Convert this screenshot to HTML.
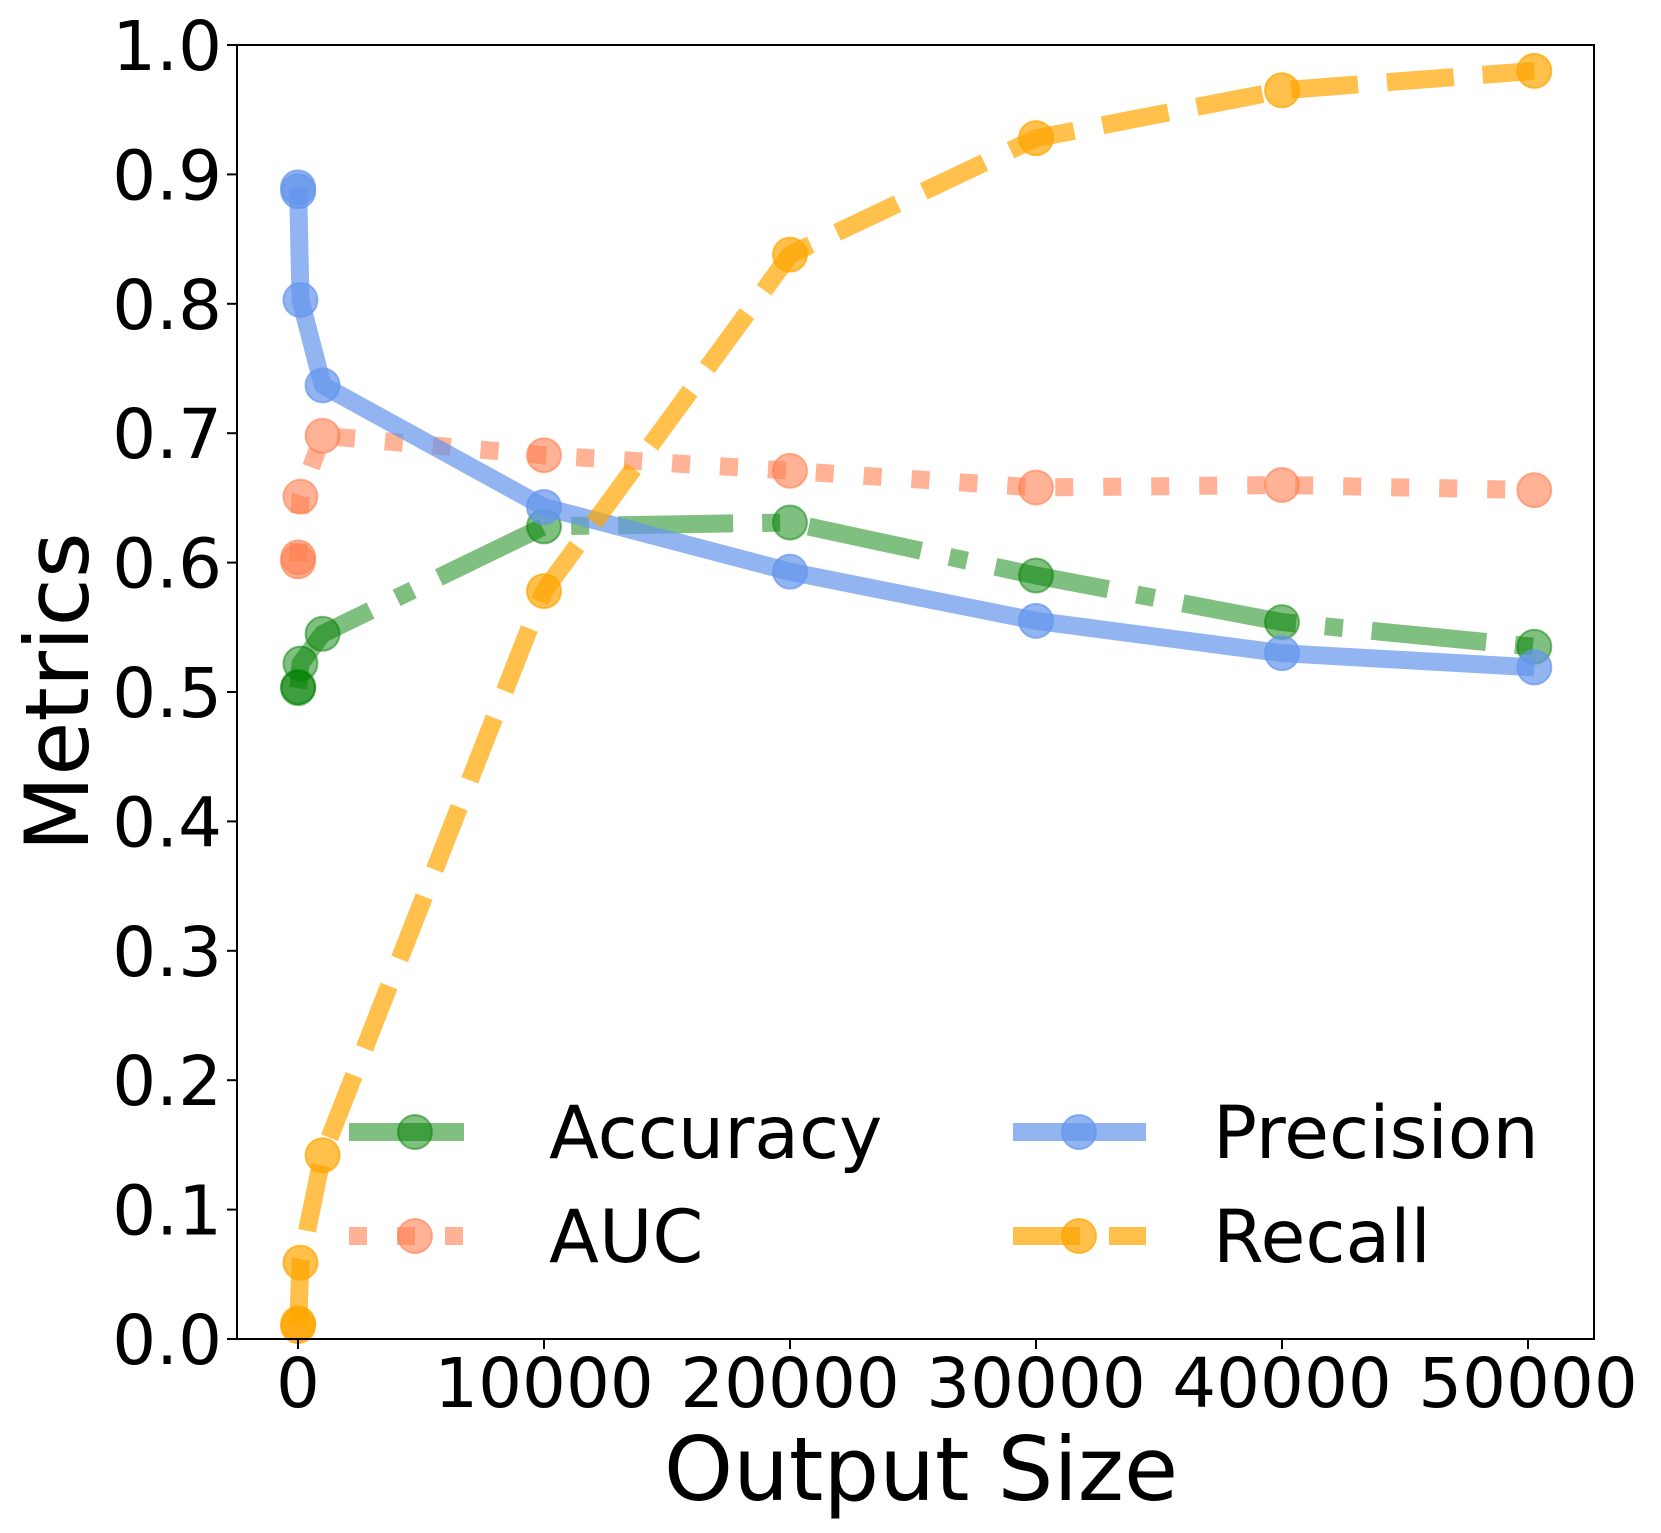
<!DOCTYPE html>
<html><head><meta charset="utf-8"><style>
html,body{margin:0;padding:0;background:#fff;}
svg{display:block;font-family:"DejaVu Sans","Liberation Sans",sans-serif;}
</style></head><body>
<svg id="chart" width="1661" height="1533" viewBox="0 0 1661 1533" xmlns="http://www.w3.org/2000/svg">
<g id="plot"></g>
<g id="axes"></g>
<g id="legend"></g>
</svg>
<script>
const xValues = [1, 10, 100, 1000, 10000, 20000, 30000, 40000, 50257];
const accuracy = [0.503, 0.504, 0.522, 0.545, 0.628, 0.631, 0.590, 0.554, 0.535];
const auc = [0.601, 0.604, 0.651, 0.698, 0.683, 0.671, 0.658, 0.660, 0.656];
const precision = [0.890, 0.887, 0.803, 0.737, 0.643, 0.593, 0.555, 0.530, 0.519];
const recall = [0.010, 0.012, 0.059, 0.142, 0.578, 0.838, 0.928, 0.965, 0.980];
const xTicks = [0, 10000, 20000, 30000, 40000, 50000];
const yTicks = [0.0, 0.1, 0.2, 0.3, 0.4, 0.5, 0.6, 0.7, 0.8, 0.9, 1.0];

const NS = "http://www.w3.org/2000/svg";
const L = 237, R = 1594, T = 45, B = 1339;
const X0 = 298, XPER = 246 / 10000;
function sx(v) { return X0 + v * XPER; }
function sy(v) { return B - v * (B - T); }
function mk(tag, attrs, parent) {
  const e = document.createElementNS(NS, tag);
  for (const k in attrs) e.setAttribute(k, attrs[k]);
  parent.appendChild(e);
  return e;
}
const plot = document.getElementById('plot');
const axes = document.getElementById('axes');
const legend = document.getElementById('legend');
const LW = 18;
const series = [
  { name: 'accuracy', label: 'Accuracy', data: accuracy, color: '#008000', alpha: 0.5, dash: [115, 29, 18, 29] },
  { name: 'auc', label: 'AUC', data: auc, color: '#FF7F50', alpha: 0.6, dash: [18, 30] },
  { name: 'precision', label: 'Precision', data: precision, color: '#6495ED', alpha: 0.7, dash: null },
  { name: 'recall', label: 'Recall', data: recall, color: '#FFA500', alpha: 0.7, dash: [67, 29] }
];
series.forEach(s => {
  const g = mk('g', {}, plot);
  
  
  const pts = s.data.map((v, i) => sx(xValues[i]).toFixed(1) + ',' + sy(v).toFixed(1)).join(' ');
  const line = mk('polyline', { points: pts, fill: 'none', stroke: s.color, 'stroke-opacity': s.alpha, 'stroke-width': LW, 'stroke-linejoin': 'round', 'stroke-linecap': 'butt' }, g);
  if (s.dash) line.setAttribute('stroke-dasharray', s.dash.join(' '));
  
  
  s.data.forEach((v, i) => {
    const c = mk('circle', { cx: sx(xValues[i]), cy: sy(v), r: 17, fill: s.color, 'fill-opacity': s.alpha, stroke: s.color, 'stroke-opacity': s.alpha, 'stroke-width': 2 }, g);
    
    
  });
});
const frame = mk('rect', { x: L, y: T, width: R - L, height: B - T, fill: 'none', stroke: '#000', 'stroke-width': 2 }, axes);


yTicks.forEach(v => {
  const t = mk('line', { x1: L - 10, x2: L, y1: sy(v), y2: sy(v), stroke: '#000', 'stroke-width': 2 }, axes);
  
  
  const tx = mk('text', { x: L - 15, y: sy(v) + 25, 'text-anchor': 'end', 'font-size': 69, fill: '#000' }, axes);
  tx.textContent = v.toFixed(1);
  
  
});
xTicks.forEach(v => {
  const t = mk('line', { x1: sx(v), x2: sx(v), y1: B, y2: B + 10, stroke: '#000', 'stroke-width': 2 }, axes);
  
  
  const tx = mk('text', { x: sx(v), y: B + 68, 'text-anchor': 'middle', 'font-size': 69, fill: '#000' }, axes);
  tx.textContent = String(v);
  
  
});
const xl = mk('text', { x: 921, y: 1500, 'text-anchor': 'middle', 'font-size': 88, fill: '#000' }, axes);
xl.textContent = 'Output Size';


const yl = mk('text', { x: 0, y: 0, 'text-anchor': 'middle', 'font-size': 88, fill: '#000', transform: 'translate(88,692) rotate(-90)' }, axes);
yl.textContent = 'Metrics';


const legPos = [[349, 1132], [349, 1236], [1013, 1132], [1013, 1236]];
series.forEach((s, i) => {
  const [lx, ly] = legPos[i];
  const g = mk('g', {}, legend);
  
  
  const ln = mk('line', { x1: lx, x2: lx + 133, y1: ly, y2: ly, stroke: s.color, 'stroke-opacity': s.alpha, 'stroke-width': LW }, g);
  if (s.dash) ln.setAttribute('stroke-dasharray', s.dash.join(' '));
  mk('circle', { cx: lx + 66, cy: ly, r: 17, fill: s.color, 'fill-opacity': s.alpha, stroke: s.color, 'stroke-opacity': s.alpha, 'stroke-width': 2 }, g);
  const tx = mk('text', { x: lx + 200, y: ly + 26, 'font-size': 73, fill: '#000' }, g);
  tx.textContent = s.label;
});
</script>
</body></html>
